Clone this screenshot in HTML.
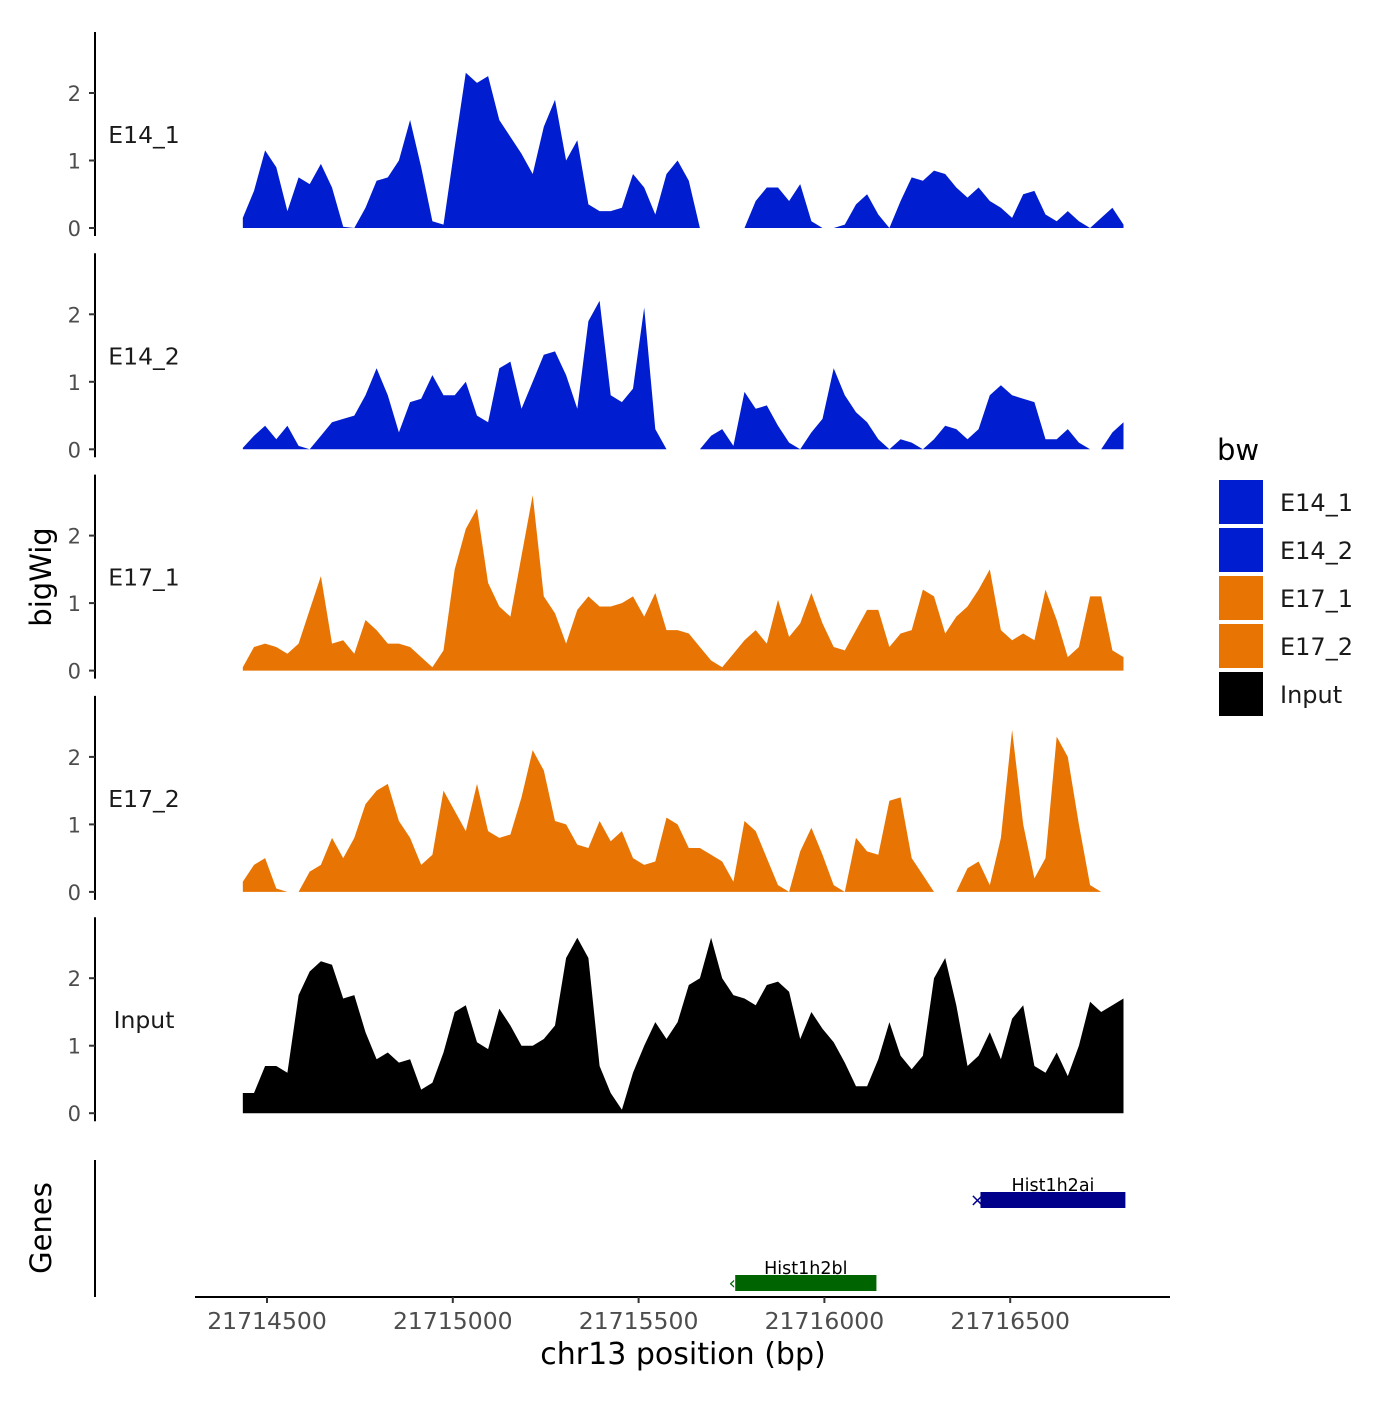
<!DOCTYPE html>
<html><head><meta charset="utf-8"><style>
body{margin:0;background:#fff}
svg text{font-family:"DejaVu Sans","Liberation Sans",sans-serif}
</style></head><body>
<svg id="chart" width="1400" height="1400" viewBox="0 0 1400 1400" xmlns="http://www.w3.org/2000/svg">
<g id="tracks"></g>
<g id="genes">
  <line x1="95" y1="1160" x2="95" y2="1297" stroke="#000" stroke-width="2"/>
  <text x="51" y="1228" font-size="29" text-anchor="middle" transform="rotate(-90 51 1228)">Genes</text>
</g>
<g id="xaxis">
  <line x1="195" y1="1297" x2="1170" y2="1297" stroke="#000" stroke-width="2"/>
</g>
<text x="683" y="1364" font-size="30" text-anchor="middle">chr13 position (bp)</text>
<text x="51" y="577" font-size="29" text-anchor="middle" transform="rotate(-90 51 577)">bigWig</text>
<g id="legend">
  <text x="1217" y="460" font-size="29">bw</text>
</g>
</svg>
<script>
const startBp = 21714435;
const stepBp = 30;
const trackNames = ["E14_1","E14_2","E17_1","E17_2","Input"];
const trackColors = ["#001ECF","#001ECF","#E87503","#E87503","#000000"];
const e14_1 = [0.15,0.55,1.15,0.9,0.25,0.75,0.65,0.95,0.6,0.02,0,0.3,0.7,0.75,1.0,1.6,0.9,0.1,0.05,1.2,2.3,2.15,2.25,1.6,1.35,1.1,0.8,1.5,1.9,1.0,1.3,0.35,0.25,0.25,0.3,0.8,0.6,0.2,0.8,1.0,0.7,0,0,0,0,0,0.4,0.6,0.6,0.4,0.65,0.1,0,0,0.05,0.35,0.5,0.2,0,0.4,0.75,0.7,0.85,0.8,0.6,0.45,0.6,0.4,0.3,0.15,0.5,0.55,0.2,0.1,0.25,0.1,0,0.15,0.3,0.05];
const e14_2 = [0.02,0.2,0.35,0.15,0.35,0.05,0,0.2,0.4,0.45,0.5,0.8,1.2,0.8,0.25,0.7,0.75,1.1,0.8,0.8,1.0,0.5,0.4,1.2,1.3,0.6,1.0,1.4,1.45,1.1,0.6,1.9,2.2,0.8,0.7,0.9,2.1,0.3,0,0,0,0,0.2,0.3,0.05,0.85,0.6,0.65,0.35,0.1,0,0.25,0.45,1.2,0.8,0.55,0.4,0.15,0,0.15,0.1,0,0.15,0.35,0.3,0.15,0.3,0.8,0.95,0.8,0.75,0.7,0.15,0.15,0.3,0.1,0,0,0.25,0.4];
const e17_1 = [0.05,0.35,0.4,0.35,0.25,0.4,0.9,1.4,0.4,0.45,0.25,0.75,0.6,0.4,0.4,0.35,0.2,0.05,0.3,1.5,2.1,2.4,1.3,0.95,0.8,1.7,2.6,1.1,0.85,0.4,0.9,1.1,0.95,0.95,1.0,1.1,0.8,1.15,0.6,0.6,0.55,0.35,0.15,0.05,0.25,0.45,0.6,0.4,1.05,0.5,0.7,1.15,0.7,0.35,0.3,0.6,0.9,0.9,0.35,0.55,0.6,1.2,1.1,0.55,0.8,0.95,1.2,1.5,0.6,0.45,0.55,0.45,1.2,0.75,0.2,0.35,1.1,1.1,0.3,0.2];
const e17_2 = [0.15,0.4,0.5,0.05,0,0,0.3,0.4,0.8,0.5,0.8,1.3,1.5,1.6,1.05,0.8,0.4,0.55,1.5,1.2,0.9,1.6,0.9,0.8,0.85,1.4,2.1,1.8,1.05,1.0,0.7,0.65,1.05,0.75,0.9,0.5,0.4,0.45,1.1,1.0,0.65,0.65,0.55,0.45,0.15,1.05,0.9,0.5,0.1,0,0.6,0.95,0.55,0.1,0,0.8,0.6,0.55,1.35,1.4,0.5,0.25,0,0,0,0.35,0.45,0.1,0.8,2.4,1.0,0.2,0.5,2.3,2.0,1.0,0.1,0,0,0];
const input = [0.3,0.3,0.7,0.7,0.6,1.75,2.1,2.25,2.2,1.7,1.75,1.2,0.8,0.9,0.75,0.8,0.35,0.45,0.9,1.5,1.6,1.05,0.95,1.55,1.3,1.0,1.0,1.1,1.3,2.3,2.6,2.3,0.7,0.3,0.05,0.6,1.0,1.35,1.1,1.35,1.9,2.0,2.6,2.0,1.75,1.7,1.6,1.9,1.95,1.8,1.1,1.5,1.25,1.05,0.75,0.4,0.4,0.8,1.35,0.85,0.65,0.85,2.0,2.3,1.6,0.7,0.85,1.2,0.8,1.4,1.6,0.7,0.6,0.9,0.55,1.0,1.65,1.5,1.6,1.7];
const seriesValues = [e14_1,e14_2,e17_1,e17_2,input];
const yTicks = [0,1,2];
const xTicks = [21714500,21715000,21715500,21716000,21716500];
const geneNames = ["Hist1h2ai","Hist1h2bl"];
const geneStart = [21716420,21715760];
const geneEnd = [21716810,21716140];
const geneRow = [0,1];
const geneColors = ["#00008B","#006400"];

const NS = "http://www.w3.org/2000/svg";
function xScale(bp){ return 267 + (bp - 21714500) * 0.3716; }
const panelBase = [228, 449.3, 670.6, 891.9, 1113.2];
function yScale(p, v){ return panelBase[p] - v * 67.5; }
function mk(tag, attrs, parent){ const e=document.createElementNS(NS,tag); for(const k in attrs) e.setAttribute(k, attrs[k]); parent.appendChild(e); return e; }

const tracks = document.getElementById('tracks');
seriesValues.forEach((vals, p) => {
  const g = mk('g', {}, tracks);
  
  
  let d = 'M' + xScale(startBp) + ',' + yScale(p,0);
  vals.forEach((v,i) => { d += 'L' + xScale(startBp + i*stepBp).toFixed(1) + ',' + yScale(p,v).toFixed(1); });
  d += 'L' + xScale(startBp + (vals.length-1)*stepBp).toFixed(1) + ',' + yScale(p,0) + 'Z';
  const area = mk('path', {d:d, fill:trackColors[p]}, g);
  
  
  const ax = mk('line', {x1:95, x2:95, y1:panelBase[p]-196, y2:panelBase[p]+8, stroke:'#000','stroke-width':2}, g);
  
  
  yTicks.forEach(t => {
    const y = yScale(p,t);
    const tk = mk('line', {x1:89, x2:95, y1:y, y2:y, stroke:'#333','stroke-width':2}, g);
    
    
    const tl = mk('text', {x:81, y:y+8, 'font-size':21, fill:'#4d4d4d', 'text-anchor':'end'}, g);
    tl.textContent = t;
    
    
  });
  const lab = mk('text', {x:144, y:panelBase[p]-85, 'font-size':23.5, fill:'#1a1a1a', 'text-anchor':'middle'}, g);
  lab.textContent = trackNames[p];
  
  
});

const xa = document.getElementById('xaxis');
xTicks.forEach(t => {
  const x = xScale(t);
  const tk = mk('line', {x1:x, x2:x, y1:1297, y2:1303, stroke:'#333','stroke-width':2}, xa);
  
  
  const tl = mk('text', {x:x, y:1329, 'font-size':23.5, fill:'#4d4d4d', 'text-anchor':'middle'}, xa);
  tl.textContent = t;
  
  
});

const gg = document.getElementById('genes');
const rowY = [1200, 1283];
geneNames.forEach((n,i) => {
  const x1 = xScale(geneStart[i]), x2 = xScale(geneEnd[i]), y = rowY[geneRow[i]];
  const r = mk('rect', {x:x1, y:y-8, width:x2-x1, height:16, fill:geneColors[i]}, gg);
  
  
  const m = mk('text', {x:x1-3, y:y+6, 'font-size':18, fill:geneColors[i], 'text-anchor':'middle'}, gg);
  m.textContent = i===0 ? '×' : '‹';
  
  
  const t = mk('text', {x:(x1+x2)/2, y:y-9, 'font-size':17.5, fill:'#000', 'text-anchor':'middle'}, gg);
  t.textContent = n;
  
  
});

const lg = document.getElementById('legend');
trackNames.forEach((n,i) => {
  const y = 480 + i*48;
  const r = mk('rect', {x:1219, y:y, width:44, height:44, fill:trackColors[i]}, lg);
  
  
  const t = mk('text', {x:1280, y:y+31, 'font-size':24, fill:'#1a1a1a'}, lg);
  t.textContent = n;
  
  
});
</script>
</body></html>
